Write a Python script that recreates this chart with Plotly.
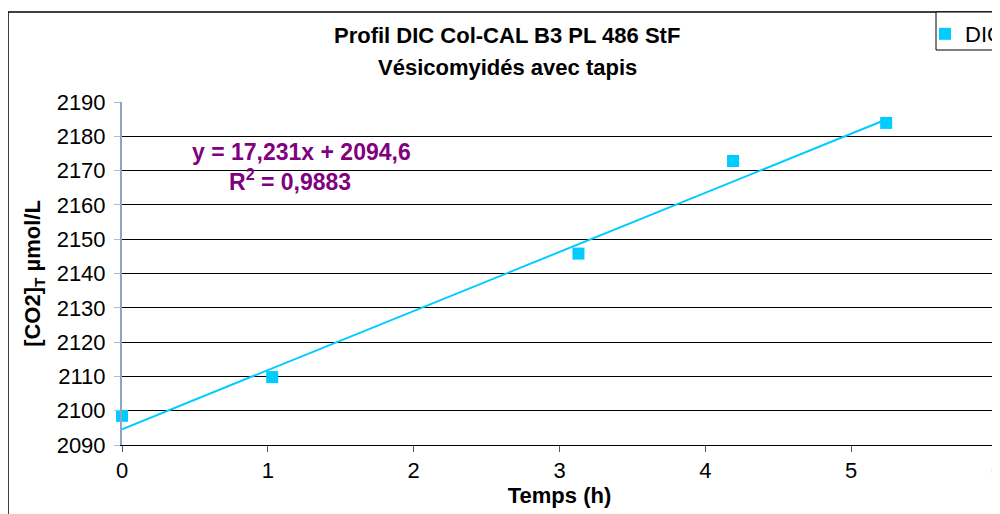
import plotly.graph_objects as go

# Data
temps_h = [0.0, 1.03, 3.13, 4.19, 5.24]
dic_umol = [2098.5, 2109.8, 2145.8, 2172.8, 2183.9]
slope = 17.231
intercept = 2094.6
eq_text = "y = 17,231x + 2094,6"
r2_text = "R<sup>2</sup> = 0,9883"
y_ticks = list(range(2090, 2191, 10))
x_ticks = [0, 1, 2, 3, 4, 5, 6]

FONT = "Liberation Sans, Arial, sans-serif"
CYAN = "#00CCFF"

# page is offset by 8px body margin; work in figure pixels
OFF = 8
L, R, T, B = 122 - OFF, 997 - OFF, 102 - OFF, 445 - OFF
def px(x):
    return (x - OFF - L) / (R - L)
def py(y):
    return (B - (y - OFF)) / (B - T)

fig = go.Figure()

trend_x = [0.0, temps_h[-1]]
trend_y = [intercept + slope * v for v in trend_x]
fig.add_trace(go.Scatter(x=trend_x, y=trend_y, mode="lines",
                         line=dict(color=CYAN, width=2), showlegend=False,
                         hoverinfo="skip"))
fig.add_trace(go.Scatter(x=temps_h, y=dic_umol, mode="markers", name="DIC",
                         marker=dict(symbol="square", size=12, color=CYAN),
                         cliponaxis=False))

fig.update_layout(
    width=1000, height=514,
    margin=dict(l=L, r=1000 - R, t=T, b=514 - B, autoexpand=False),
    paper_bgcolor="white", plot_bgcolor="white",
    font=dict(family=FONT, size=22, color="black"),
    showlegend=True,
    legend=dict(x=px(925), y=py(13), xanchor="left", yanchor="top",
                borderwidth=0, bgcolor="rgba(0,0,0,0)",
                font=dict(size=22, family=FONT), itemsizing="constant",
                itemwidth=30, tracegroupgap=0),
    xaxis=dict(range=[0, 6], tickvals=x_ticks, showgrid=False, zeroline=False,
               showline=True, linecolor="black", linewidth=1,
               ticks="outside", ticklen=6, tickcolor="#555555",
               tickfont=dict(size=22, family=FONT),
               title=dict(text="<b>Temps (h)</b>", font=dict(size=22, family=FONT),
                          standoff=0)),
    yaxis=dict(range=[2090, 2190], tickvals=y_ticks, showgrid=True,
               gridcolor="black", gridwidth=1, zeroline=False,
               showline=True, linecolor="#8DA5C5", linewidth=2,
               ticks="outside", ticklen=6, tickcolor="#9CC3E6",
               ticklabelstandoff=4,
               tickfont=dict(size=22, family=FONT),
               title=dict(text="<b>[CO2]<sub>T</sub> µmol/L</b>",
                          font=dict(size=22, family=FONT), standoff=10)),
    shapes=[
        dict(type="rect", xref="paper", yref="paper",
             x0=px(8), x1=px(1020), y0=py(540), y1=py(12),
             line=dict(color="black", width=1.5), layer="below"),
        dict(type="rect", xref="paper", yref="paper",
             x0=px(936), x1=px(1020), y0=py(50), y1=py(12),
             line=dict(color="black", width=1), fillcolor="white", layer="below"),
        dict(type="line", xref="paper", yref="paper",
             x0=1, x1=1, y0=0, y1=1, line=dict(color="black", width=1)),
    ],
    annotations=[
        dict(text="<b>Profil DIC Col-CAL B3 PL 486 StF</b>", xref="paper", yref="paper",
             x=px(507), y=py(35), xanchor="center", yanchor="middle",
             showarrow=False, font=dict(size=22, family=FONT)),
        dict(text="<b>Vésicomyidés avec tapis</b>", xref="paper", yref="paper",
             x=px(507), y=py(67), xanchor="center", yanchor="middle",
             showarrow=False, font=dict(size=22, family=FONT)),
        dict(text="<b>" + eq_text + "</b>", xref="paper", yref="paper",
             x=px(301), y=py(152), xanchor="center", yanchor="middle",
             showarrow=False, font=dict(size=23, family=FONT, color="#800080")),
        dict(text="<b>" + r2_text + "</b>", xref="paper", yref="paper",
             x=px(290), y=py(180), xanchor="center", yanchor="middle",
             showarrow=False, font=dict(size=23, family=FONT, color="#800080")),
    ],
)

fig.write_html("out.html")
